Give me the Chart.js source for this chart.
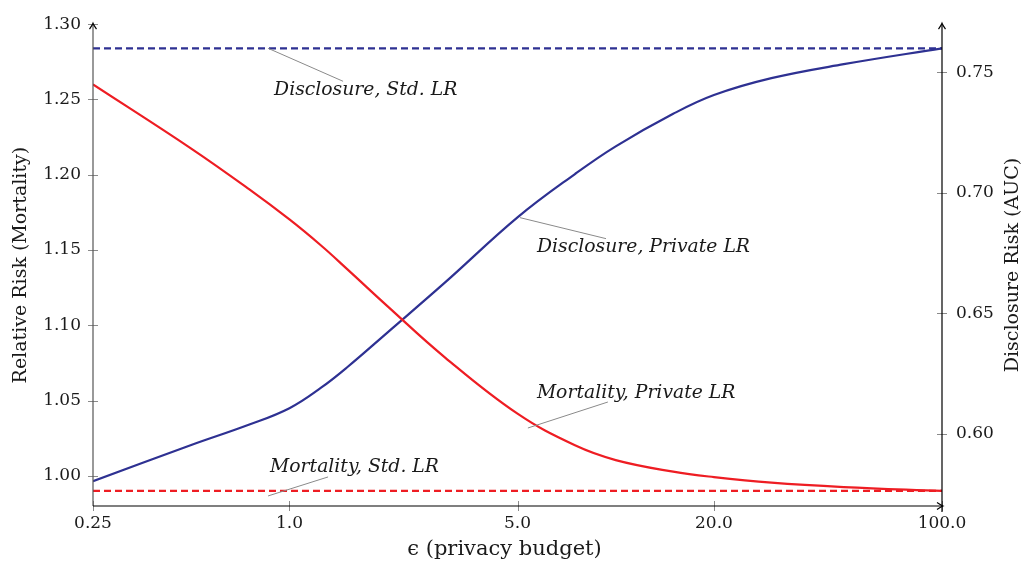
<!DOCTYPE html>
<html><head><meta charset="utf-8">
<script src="https://cdn.jsdelivr.net/npm/chart.js@4"></script>
<style>html,body{margin:0;padding:0;background:#fff}#wrap{width:1024px;height:562px}</style>
</head><body><div id="wrap"><canvas id="c" width="1024" height="562"></canvas></div>
<script>
// ---- data ----
const epsilon = [0.25, 0.5, 0.75, 1, 1.25, 1.5, 2, 3, 5, 7.5, 10, 15, 20, 30, 50, 100];
const mortalityPrivate = [1.260, 1.2174, 1.1906, 1.1703, 1.1530, 1.1375, 1.1126, 1.0786, 1.0413, 1.0203, 1.0105, 1.0028, 0.9992, 0.9955, 0.9926, 0.990];
const disclosurePrivate = [0.5803, 0.5953, 0.6037, 0.6106, 0.6191, 0.6275, 0.6421, 0.6628, 0.6898, 0.7078, 0.7193, 0.7328, 0.7406, 0.7476, 0.7534, 0.760];
const mortalityStd = 0.990;
const disclosureStd = 0.760;
const xRange = [0.25, 100];
const xTicks = [0.25, 1, 5, 20, 100];
const xTickLabels = ['0.25', '1.0', '5.0', '20.0', '100.0'];
const leftTicks = [1.00, 1.05, 1.10, 1.15, 1.20, 1.25, 1.30];
const leftRange = [0.98, 1.30];
const rightTicks = [0.60, 0.65, 0.70, 0.75];
const rightRange = [0.570, 0.770];
const xTitle = 'ϵ (privacy budget)';
const leftTitle = 'Relative Risk (Mortality)';
const rightTitle = 'Disclosure Risk (AUC)';
// annotation anchors (epsilon, value, axis)
const pinLabels = ['Disclosure, Std. LR', 'Disclosure, Private LR', 'Mortality, Private LR', 'Mortality, Std. LR'];
const pinEps = [0.86, 5.09, 5.38, 0.86];
const pinVal = [disclosureStd, 0.6897, 1.0318, mortalityStd];
const pinAxis = ['y1', 'y1', 'y', 'y'];

// ---- styles ----
const RED = '#ee1d23';
const BLUE = '#2e3192';
const FONT = "'DejaVu Serif', serif";
const pinStyle = [
  {sdy: 0, ex: 75, ey: 33, tx: 6, ty: 42},
  {sdy: 0, ex: 86, ey: 21, tx: 17, ty: 29},
  {sdy: 0, ex: 80, ey: -26, tx: 9, ty: -35},
  {sdy: 5, ex: 60, ey: -14, tx: 2, ty: -24}
];

const pts = (xs, ys) => xs.map((x, i) => ({x: x, y: ys[i]}));

const decor = {
  id: 'decor',
  afterDatasetsDraw(chart) {
    const ctx = chart.ctx;
    const ca = chart.chartArea;
    const xs = chart.scales.x, yl = chart.scales.y, yr = chart.scales.y1;
    ctx.save();
    // pins + labels
    ctx.font = "italic 18.8px " + FONT;
    ctx.textBaseline = 'middle';
    ctx.textAlign = 'left';
    for (let i = 0; i < pinLabels.length; i++) {
      const ax = xs.getPixelForValue(pinEps[i]);
      const ay = chart.scales[pinAxis[i]].getPixelForValue(pinVal[i]);
      const s = pinStyle[i];
      ctx.strokeStyle = '#8a8a8a';
      ctx.lineWidth = 1;
      ctx.beginPath();
      ctx.moveTo(ax, ay + s.sdy);
      ctx.lineTo(ax + s.ex, ay + s.ey);
      ctx.stroke();
      ctx.fillStyle = '#1a1a1a';
      ctx.fillText(pinLabels[i], ax + s.tx, ay + s.ty);
    }
    // ticks crossing axes
    ctx.strokeStyle = '#8a8a8a';
    ctx.lineWidth = 1;
    ctx.beginPath();
    xTicks.forEach(v => {
      const p = Math.round(xs.getPixelForValue(v)) + 0.5;
      ctx.moveTo(p, ca.bottom - 5); ctx.lineTo(p, ca.bottom + 5);
    });
    leftTicks.forEach(v => {
      const p = Math.round(yl.getPixelForValue(v)) + 0.5;
      ctx.moveTo(ca.left - 5, p); ctx.lineTo(ca.left + 5, p);
    });
    rightTicks.forEach(v => {
      const p = Math.round(yr.getPixelForValue(v)) + 0.5;
      ctx.moveTo(ca.right - 5, p); ctx.lineTo(ca.right + 5, p);
    });
    ctx.stroke();
    // axis lines
    ctx.lineWidth = 1.2;
    ctx.strokeStyle = '#555';
    ctx.beginPath();
    ctx.moveTo(ca.left, ca.bottom); ctx.lineTo(ca.left, ca.top);
    ctx.stroke();
    ctx.strokeStyle = '#000';
    ctx.beginPath();
    ctx.moveTo(ca.left, ca.bottom); ctx.lineTo(ca.right, ca.bottom);
    ctx.moveTo(ca.right, ca.bottom + 6); ctx.lineTo(ca.right, ca.top);
    ctx.stroke();
    // arrowheads
    const arrow = (x, y, dir) => {
      ctx.beginPath();
      if (dir === 'up') {
        ctx.moveTo(x - 3.5, y + 6); ctx.quadraticCurveTo(x - 0.8, y + 2, x, y);
        ctx.quadraticCurveTo(x + 0.8, y + 2, x + 3.5, y + 6);
      } else {
        ctx.moveTo(x - 6, y - 3.5); ctx.quadraticCurveTo(x - 2, y - 0.8, x, y);
        ctx.quadraticCurveTo(x - 2, y + 0.8, x - 6, y + 3.5);
      }
      ctx.stroke();
    };
    ctx.lineWidth = 1.2;
    ctx.strokeStyle = '#000';
    arrow(ca.left, ca.top - 1, 'up');
    arrow(ca.right, ca.top - 1, 'up');
    arrow(ca.right + 1, ca.bottom, 'right');
    // titles
    ctx.font = "21px " + FONT;
    ctx.fillStyle = '#1a1a1a';
    ctx.textAlign = 'center';
    ctx.textBaseline = 'middle';
    ctx.fillText(xTitle, (ca.left + ca.right) / 2 - 13, 550);
    ctx.save();
    ctx.font = "19px " + FONT;
    ctx.translate(1013, (ca.top + ca.bottom) / 2);
    ctx.rotate(-Math.PI / 2);
    ctx.fillText(rightTitle, 0, 0);
    ctx.restore();
    ctx.restore();
  }
};

const tickFont = {family: FONT, size: 17};
const lineBase = {borderWidth: 2.2, pointRadius: 0, fill: false};
new Chart(document.getElementById('c'), {
  type: 'line',
  data: {
    datasets: [
      Object.assign({label: 'Mortality, Private LR', data: pts(epsilon, mortalityPrivate), yAxisID: 'y',
       borderColor: RED, tension: 0.4}, lineBase),
      Object.assign({label: 'Disclosure, Private LR', data: pts(epsilon, disclosurePrivate), yAxisID: 'y1',
       borderColor: BLUE, tension: 0.4}, lineBase),
      Object.assign({label: 'Mortality, Std. LR', data: pts(xRange, [mortalityStd, mortalityStd]), yAxisID: 'y',
       borderColor: RED, borderDash: [7, 4]}, lineBase),
      Object.assign({label: 'Disclosure, Std. LR', data: pts(xRange, [disclosureStd, disclosureStd]), yAxisID: 'y1',
       borderColor: BLUE, borderDash: [7, 4]}, lineBase)
    ]
  },
  options: {
    responsive: false, animation: false, devicePixelRatio: 1,
    layout: {padding: {top: 22, left: 0, right: 0, bottom: 0}},
    plugins: {legend: {display: false}, tooltip: {enabled: false}},
    scales: {
      x: {
        type: 'logarithmic', min: xRange[0], max: xRange[1],
        afterBuildTicks: s => { s.ticks = xTicks.map(v => ({value: v})); },
        afterFit: s => { s.height = 56; },
        ticks: {callback: (v, i) => xTickLabels[i], font: tickFont, color: '#1a1a1a', padding: 7, maxRotation: 0, autoSkip: false},
        grid: {display: false, drawTicks: false}, border: {display: false}
      },
      y: {
        position: 'left', min: leftRange[0], max: leftRange[1],
        afterBuildTicks: s => { s.ticks = leftTicks.map(v => ({value: v})); },
        afterFit: s => { s.width = 93; },
        ticks: {callback: v => v.toFixed(2), font: tickFont, color: '#1a1a1a', padding: 12},
        grid: {display: false, drawTicks: false}, border: {display: false},
        title: {display: true, text: leftTitle, font: {family: FONT, size: 19}, color: '#1a1a1a', padding: {top: 10, bottom: 0}}
      },
      y1: {
        position: 'right', min: rightRange[0], max: rightRange[1],
        afterBuildTicks: s => { s.ticks = rightTicks.map(v => ({value: v})); },
        afterFit: s => { s.width = 82; },
        ticks: {callback: v => v.toFixed(2), font: tickFont, color: '#1a1a1a', padding: 14},
        grid: {display: false, drawTicks: false}, border: {display: false}
      }
    }
  },
  plugins: [decor]
});
</script>
</body></html>
